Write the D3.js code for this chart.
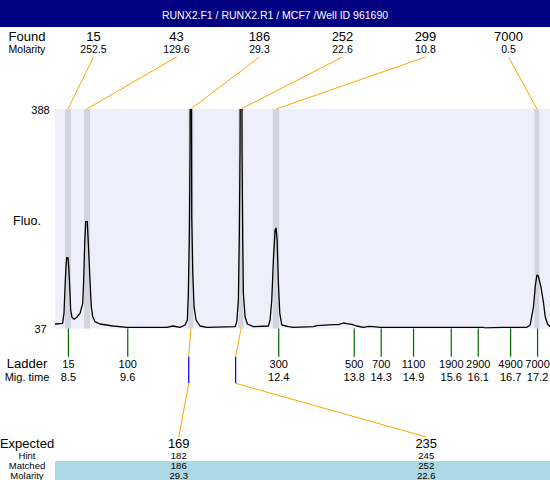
<!DOCTYPE html>
<html>
<head>
<meta charset="utf-8">
<script src="https://cdn.jsdelivr.net/npm/d3@7"></script>
<style>
  body { margin: 0; background: #fff; }
  svg { display: block; font-family: "Liberation Sans", Arial, sans-serif; }
</style>
</head>
<body>
<div id="chart"></div>
<script>
//Chart data

const title = "RUNX2.F1 / RUNX2.R1 / MCF7 /Well ID 961690";

// found peaks
const foundSizes = ["15", "43", "186", "252", "299", "7000"];
const foundMolarity = ["252.5", "129.6", "29.3", "22.6", "10.8", "0.5"];
const foundTimes = [8.50, 8.85, 10.78, 11.71, 12.36, 17.20];
const bandStart = [8.446, 8.798, 10.733, 11.661, 12.299, 17.153];
const bandEnd = [8.557, 8.909, 10.826, 11.753, 12.416, 17.240];

// ladder
const ladderSizes = [15, 100, 300, 500, 700, 1100, 1900, 2900, 4900, 7000];
const ladderTimes = [8.5, 9.6, 12.4, 13.8, 14.3, 14.9, 15.6, 16.1, 16.7, 17.2];

// fluorescence axis labels
const fluoTicks = [37, 388];

// trace (migration time, fluorescence)
const traceTime = [8.26, 8.40, 8.427, 8.446, 8.464, 8.477, 8.501, 8.514, 8.533, 8.551,
  8.575, 8.613, 8.663, 8.724, 8.774, 8.792, 8.811, 8.830, 8.859, 8.878,
  8.909, 8.933, 8.959, 9.002, 9.095, 9.336, 9.590, 10.332, 10.449, 10.579,
  10.672, 10.715, 10.733, 10.752, 10.765, 10.780, 10.796, 10.815, 10.839, 10.876,
  10.950, 11.074, 11.600, 11.631, 11.661, 11.679, 11.692, 11.711, 11.729, 11.742,
  11.753, 11.785, 11.828, 11.939, 12.217, 12.249, 12.280, 12.310, 12.342, 12.360,
  12.379, 12.403, 12.429, 12.466, 12.589, 12.681, 13.052, 13.115, 13.423, 13.516,
  13.609, 13.672, 13.765, 13.857, 13.980, 14.073, 14.165, 14.290, 16.206, 16.238,
  16.577, 17.011, 17.073, 17.134, 17.166, 17.197, 17.221, 17.271, 17.320, 17.351,
  17.394, 17.444];
const traceFluo = [44.2, 45.3, 61.3, 103.8, 135.9, 150.3, 150.3, 135.9, 103.8, 66.6,
  54.9, 51.7, 54.9, 61.3, 77.3, 114.6, 173.3, 207.9, 207.9, 173.3,
  114.6, 71.9, 55.9, 47.9, 44.2, 41.0, 38.9, 38.9, 41.0, 38.9,
  42.6, 50.6, 93.8, 189.8, 322.6, 900, 215.8, 125.8, 71.9, 50.6,
  41.0, 38.9, 39.9, 47.9, 82.6, 189.8, 322.6, 850, 322.6, 178.6,
  93.8, 55.9, 44.2, 39.9, 41.0, 50.6, 82.6, 146.6, 194.6, 197.3,
  178.6, 109.3, 61.3, 42.6, 39.9, 38.9, 39.9, 41.5, 43.1, 43.1,
  45.8, 44.7, 43.7, 41.0, 38.9, 40.5, 39.9, 38.9, 38.9, 37.8,
  38.9, 38.9, 42.6, 71.9, 103.8, 122.5, 121.7, 103.8, 77.8, 55.9,
  44.2, 39.9];

// expected fragments and the peaks they matched
const expectedSizes = ["169", "235"];
const hintSizes = ["182", "245"];
const matchedSizes = ["186", "252"];
const matchedMolarity = ["29.3", "22.6"];
const matchedPeak = [2, 3];              // index into found peaks
const expectedTimes = [10.74, 11.61];

//Chart dimensions

const width = 550, height = 480;
const plot = { left: 55, right: 550, top: 109, bottom: 328.5 };
const labelX = 27;

const x = d3.scaleLinear().domain([8.26, 17.44]).range([plot.left, plot.right]);
const y = d3.scaleLinear().domain([37, 388]).range([plot.bottom, plot.top]);

const foundPos = d3.scaleBand().domain(foundSizes).range([52, 550]);
const expPos = d3.scaleBand().domain(expectedSizes).range([55, 550]);

const svg = d3.select("#chart")
  .append("svg")
  .attr("width", width)
  .attr("height", height);

//Title bar

svg.append("rect")
  .attr("x", 0).attr("y", 0)
  .attr("width", width).attr("height", 27)
  .attr("fill", "#000080");

svg.append("text")
  .attr("x", width / 2)
  .attr("y", 19)
  .attr("text-anchor", "middle")
  .attr("fill", "#fff")
  .style("font-size", "10.5px")
  .text(title);

//Found row

svg.append("text")
  .attr("x", labelX).attr("y", 41)
  .attr("text-anchor", "middle")
  .style("font-size", "13px")
  .text("Found");

svg.append("text")
  .attr("x", labelX).attr("y", 52.5)
  .attr("text-anchor", "middle")
  .style("font-size", "10.5px")
  .text("Molarity");

svg.selectAll(".found-size")
  .data(foundSizes)
  .join("text")
  .attr("class", "found-size")
  .attr("x", d => foundPos(d) + foundPos.bandwidth() / 2)
  .attr("y", 41)
  .attr("text-anchor", "middle")
  .style("font-size", "13px")
  .text(d => d);

svg.selectAll(".found-mol")
  .data(foundMolarity)
  .join("text")
  .attr("class", "found-mol")
  .attr("x", (d, i) => foundPos(foundSizes[i]) + foundPos.bandwidth() / 2)
  .attr("y", 53)
  .attr("text-anchor", "middle")
  .style("font-size", "10.5px")
  .text(d => d);

//Connector lines from found labels down to peaks

svg.selectAll(".found-link")
  .data(foundTimes)
  .join("line")
  .attr("class", "found-link")
  .attr("x1", (d, i) => foundPos(foundSizes[i]) + foundPos.bandwidth() / 2)
  .attr("y1", 57)
  .attr("x2", d => x(d))
  .attr("y2", plot.top)
  .attr("stroke", "#FFA500")
  .attr("stroke-width", 1);

//Plot background and peak bands

svg.append("rect")
  .attr("x", plot.left).attr("y", plot.top)
  .attr("width", plot.right - plot.left)
  .attr("height", plot.bottom - plot.top)
  .attr("fill", "#EFEFFB");

svg.selectAll(".band")
  .data(bandStart)
  .join("rect")
  .attr("class", "band")
  .attr("x", d => x(d))
  .attr("y", plot.top)
  .attr("width", (d, i) => x(bandEnd[i]) - x(d))
  .attr("height", plot.bottom - plot.top)
  .attr("fill", "#D4D4E0");

//Fluorescence labels

svg.selectAll(".fluo-tick")
  .data(fluoTicks)
  .join("text")
  .attr("class", "fluo-tick")
  .attr("x", 40.5)
  .attr("y", d => y(d) + 4.5)
  .attr("text-anchor", "middle")
  .style("font-size", "11px")
  .text(d => d);

svg.append("text")
  .attr("x", labelX).attr("y", 225)
  .attr("text-anchor", "middle")
  .style("font-size", "12.5px")
  .text("Fluo.");

//Trace line, clipped to the plot

svg.append("clipPath")
  .attr("id", "plot-clip")
  .append("rect")
  .attr("x", plot.left).attr("y", plot.top)
  .attr("width", plot.right - plot.left)
  .attr("height", plot.bottom - plot.top);

const line = d3.line()
  .x(i => x(traceTime[i]))
  .y(i => y(traceFluo[i]));

svg.append("path")
  .datum(d3.range(traceTime.length))
  .attr("clip-path", "url(#plot-clip)")
  .attr("fill", "none")
  .attr("stroke", "#000")
  .attr("stroke-width", 1.3)
  .attr("stroke-linejoin", "round")
  .attr("d", line);

//Ladder axis (sizes) and migration time row

svg.append("g")
  .attr("transform", `translate(0,${plot.bottom})`)
  .call(d3.axisBottom(x)
    .tickValues(ladderTimes)
    .tickSize(28.2)
    .tickPadding(3)
    .tickFormat((d, i) => ladderSizes[i]))
  .call(g => g.select(".domain").remove())
  .call(g => g.selectAll(".tick line").attr("stroke", "#006400").attr("stroke-width", 1.2))
  .call(g => g.selectAll(".tick text").attr("fill", "#000"))
  .attr("font-family", null)
  .attr("font-size", "11px");

svg.append("g")
  .attr("transform", `translate(0,${plot.bottom})`)
  .call(d3.axisBottom(x)
    .tickValues(ladderTimes)
    .tickSize(0)
    .tickPadding(44.5)
    .tickFormat(d3.format(".1f")))
  .call(g => g.select(".domain").remove())
  .call(g => g.selectAll(".tick text").attr("fill", "#000"))
  .attr("font-family", null)
  .attr("font-size", "11px");

svg.append("text")
  .attr("x", labelX).attr("y", 368.3)
  .attr("text-anchor", "middle")
  .style("font-size", "13px")
  .text("Ladder");

svg.append("text")
  .attr("x", labelX).attr("y", 380.5)
  .attr("text-anchor", "middle")
  .style("font-size", "11px")
  .text("Mig. time");

//Expected section: matched rows highlight

svg.append("rect")
  .attr("x", plot.left).attr("y", 461)
  .attr("width", plot.right - plot.left)
  .attr("height", 19)
  .attr("fill", "#ADD8E6");

// connectors peak -> expected position -> expected label
const links = expectedSizes.map((d, i) => ({
  peak: x(foundTimes[matchedPeak[i]]),
  exp: x(expectedTimes[i]),
  label: expPos(d) + expPos.bandwidth() / 2
}));

svg.selectAll(".exp-top")
  .data(links)
  .join("line")
  .attr("class", "exp-top")
  .attr("x1", d => d.peak).attr("y1", plot.bottom)
  .attr("x2", d => d.exp).attr("y2", 356.7)
  .attr("stroke", "#FFA500");

svg.selectAll(".exp-mid")
  .data(links)
  .join("line")
  .attr("class", "exp-mid")
  .attr("x1", d => d.exp).attr("y1", 356.7)
  .attr("x2", d => d.exp).attr("y2", 383.3)
  .attr("stroke", "#0000FF")
  .attr("stroke-width", 1.2);

svg.selectAll(".exp-bottom")
  .data(links)
  .join("line")
  .attr("class", "exp-bottom")
  .attr("x1", d => d.exp).attr("y1", 383.3)
  .attr("x2", d => d.label).attr("y2", 437)
  .attr("stroke", "#FFA500");

// row labels on the left
const expRows = [
  { name: "Expected", values: expectedSizes, y: 448, size: "13px" },
  { name: "Hint", values: hintSizes, y: 458.5, size: "9.5px" },
  { name: "Matched", values: matchedSizes, y: 469, size: "9.5px" },
  { name: "Molarity", values: matchedMolarity, y: 479, size: "9.5px" }
];

expRows.forEach(row => {
  svg.append("text")
    .attr("x", labelX).attr("y", row.y)
    .attr("text-anchor", "middle")
    .style("font-size", row.size)
    .text(row.name);

  svg.selectAll(null)
    .data(row.values)
    .join("text")
    .attr("x", (d, i) => expPos(expectedSizes[i]) + expPos.bandwidth() / 2)
    .attr("y", row.y)
    .attr("text-anchor", "middle")
    .style("font-size", row.size)
    .text(d => d);
});
</script>
</body>
</html>
